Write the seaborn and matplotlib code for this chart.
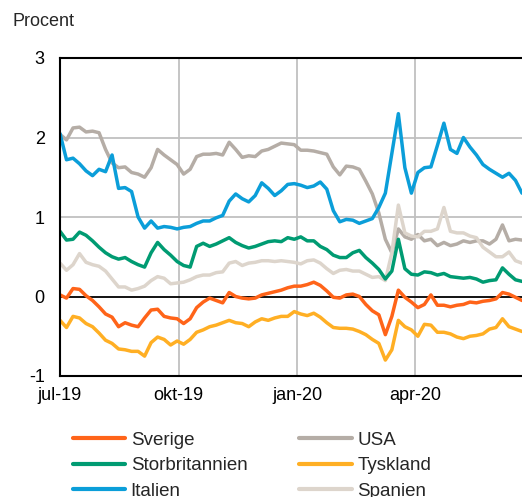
import numpy as np
import pandas as pd
import matplotlib
matplotlib.use("Agg")
import matplotlib.pyplot as plt
from matplotlib.lines import Line2D
import seaborn as sns

# datum (ca var 5:e dag, jul-19 .. jun-20)
dates = pd.date_range("2019-07-01", "2020-06-23", periods=72)

sverige = [0.02, -0.02, 0.10, 0.09, 0.01, -0.05, -0.13, -0.22, -0.26, -0.38,
           -0.33, -0.36, -0.38, -0.27, -0.17, -0.16, -0.25, -0.27, -0.28, -0.34,
           -0.28, -0.14, -0.07, -0.02, -0.05, -0.08, 0.05, 0.00, -0.02, -0.03,
           -0.02, 0.02, 0.04, 0.06, 0.08, 0.11, 0.13, 0.13, 0.15, 0.18,
           0.14, 0.07, -0.01, -0.02, 0.02, 0.03, 0.00, -0.10, -0.18, -0.23,
           -0.48, -0.25, 0.08, -0.01, -0.07, -0.14, -0.10, 0.02, -0.11, -0.11,
           -0.13, -0.11, -0.10, -0.07, -0.08, -0.06, -0.05, -0.03, 0.05, 0.03,
           -0.01, -0.05]
usa = [2.04, 1.97, 2.12, 2.13, 2.07, 2.08, 2.06, 1.85, 1.68, 1.62,
       1.63, 1.56, 1.54, 1.50, 1.62, 1.85, 1.78, 1.72, 1.66, 1.54,
       1.60, 1.76, 1.79, 1.79, 1.80, 1.78, 1.94, 1.85, 1.75, 1.77,
       1.76, 1.83, 1.85, 1.89, 1.93, 1.92, 1.91, 1.84, 1.84, 1.83,
       1.81, 1.79, 1.63, 1.53, 1.64, 1.63, 1.60, 1.45, 1.29, 1.05,
       0.72, 0.55, 0.85, 0.75, 0.72, 0.78, 0.70, 0.72, 0.64, 0.68,
       0.64, 0.66, 0.70, 0.68, 0.70, 0.70, 0.66, 0.72, 0.90, 0.70,
       0.72, 0.71]
storbritannien = [0.82, 0.71, 0.72, 0.81, 0.77, 0.70, 0.62, 0.55, 0.50, 0.47,
                  0.49, 0.44, 0.40, 0.37, 0.55, 0.68, 0.59, 0.52, 0.44, 0.39,
                  0.37, 0.63, 0.67, 0.63, 0.66, 0.70, 0.74, 0.68, 0.64, 0.61,
                  0.63, 0.66, 0.69, 0.70, 0.69, 0.74, 0.72, 0.75, 0.70, 0.70,
                  0.63, 0.59, 0.52, 0.49, 0.49, 0.55, 0.58, 0.49, 0.42, 0.34,
                  0.22, 0.32, 0.72, 0.35, 0.28, 0.27, 0.31, 0.30, 0.27, 0.29,
                  0.25, 0.24, 0.23, 0.24, 0.22, 0.18, 0.20, 0.21, 0.36, 0.28,
                  0.21, 0.19]
tyskland = [-0.30, -0.39, -0.25, -0.27, -0.34, -0.38, -0.46, -0.55, -0.59, -0.66,
            -0.67, -0.69, -0.69, -0.75, -0.58, -0.51, -0.54, -0.61, -0.56, -0.60,
            -0.54, -0.45, -0.42, -0.38, -0.36, -0.33, -0.30, -0.33, -0.34, -0.38,
            -0.32, -0.28, -0.30, -0.27, -0.25, -0.25, -0.19, -0.22, -0.24, -0.21,
            -0.26, -0.33, -0.39, -0.40, -0.40, -0.41, -0.44, -0.48, -0.54, -0.59,
            -0.80, -0.67, -0.30, -0.38, -0.42, -0.50, -0.35, -0.36, -0.45, -0.45,
            -0.47, -0.51, -0.53, -0.50, -0.49, -0.47, -0.41, -0.39, -0.28, -0.38,
            -0.41, -0.44]
italien = [2.05, 1.72, 1.74, 1.67, 1.58, 1.52, 1.60, 1.57, 1.78, 1.36,
           1.37, 1.32, 1.00, 0.86, 0.95, 0.86, 0.88, 0.87, 0.85, 0.87,
           0.88, 0.92, 0.95, 0.95, 0.99, 1.02, 1.20, 1.29, 1.23, 1.19,
           1.27, 1.43, 1.36, 1.27, 1.33, 1.41, 1.42, 1.40, 1.37, 1.39,
           1.44, 1.35, 1.08, 0.94, 0.97, 0.96, 0.92, 0.95, 0.98, 1.12,
           1.30, 1.80, 2.30, 1.62, 1.30, 1.56, 1.62, 1.63, 1.90, 2.18,
           1.85, 1.80, 2.00, 1.88, 1.78, 1.66, 1.60, 1.55, 1.50, 1.55,
           1.46, 1.30]
spanien = [0.42, 0.33, 0.40, 0.54, 0.43, 0.40, 0.38, 0.32, 0.22, 0.12,
           0.12, 0.08, 0.10, 0.13, 0.20, 0.25, 0.23, 0.16, 0.17, 0.18,
           0.21, 0.25, 0.27, 0.27, 0.30, 0.31, 0.42, 0.44, 0.39, 0.42,
           0.43, 0.45, 0.45, 0.44, 0.45, 0.44, 0.43, 0.41, 0.45, 0.46,
           0.42, 0.35, 0.29, 0.33, 0.34, 0.32, 0.32, 0.28, 0.24, 0.25,
           0.20, 0.55, 1.15, 0.80, 0.76, 0.75, 0.82, 0.82, 0.85, 1.12,
           0.82, 0.80, 0.80, 0.76, 0.74, 0.62, 0.56, 0.50, 0.50, 0.56,
           0.45, 0.42]

series = {"Sverige": sverige, "USA": usa, "Storbritannien": storbritannien,
          "Tyskland": tyskland, "Italien": italien, "Spanien": spanien}
colors = {"Sverige": "#FF6419", "USA": "#B5ADA6", "Storbritannien": "#009B72",
          "Tyskland": "#FFAF24", "Italien": "#0B9ED9", "Spanien": "#DDD5CC"}
draw_order = ["USA", "Spanien", "Storbritannien", "Tyskland", "Sverige", "Italien"]
legend_order = ["Sverige", "Storbritannien", "Italien", "USA", "Tyskland", "Spanien"]

df = pd.concat([pd.DataFrame({"datum": dates, "procent": v, "land": k})
                for k, v in series.items()], ignore_index=True)

sns.set_style("white")
plt.rcParams["font.family"] = ["Liberation Sans", "DejaVu Sans"]

fig = plt.figure(figsize=(5.22, 4.97), dpi=100)
ax = fig.add_axes([60 / 522, 1 - 376 / 497, 1 - 60 / 522, (376 - 58) / 497])

# rutnät
for d in ["2019-10-01", "2020-01-01", "2020-04-01"]:
    ax.axvline(pd.Timestamp(d), color="#C0C0C0", lw=1.3, zorder=0)
for yv in [1, 2]:
    ax.axhline(yv, color="#C0C0C0", lw=1.3, zorder=0)
ax.axhline(0, color="black", lw=1.3, zorder=1)

sns.lineplot(data=df, x="datum", y="procent", hue="land", hue_order=draw_order,
             palette=colors, linewidth=2.5, legend=False, ax=ax, zorder=2)

ax.set_xlim(pd.Timestamp("2019-07-01"), pd.Timestamp("2020-06-23"))
ax.set_ylim(-1, 3)
ax.set_yticks([-1, 0, 1, 2, 3])
ax.set_yticklabels(["-1", "0", "1", "2", "3"])
ax.set_xticks([pd.Timestamp(d) for d in ["2019-07-01", "2019-10-01", "2020-01-01", "2020-04-01"]])
ax.set_xticklabels(["jul-19", "okt-19", "jan-20", "apr-20"])
ax.tick_params(axis="both", length=0, labelsize=13, colors="black")
ax.tick_params(axis="y", pad=11)
ax.tick_params(axis="x", pad=8)
ax.set_xlabel("")
ax.set_ylabel("")
for s in ["left", "top", "bottom"]:
    ax.spines[s].set_color("black")
    ax.spines[s].set_linewidth(1.5)
ax.spines["right"].set_visible(False)

fig.text(12 / 522, 1 - 22 / 497, "Procent", fontsize=13, va="center", ha="left")

handles = [Line2D([], [], color=colors[k], lw=3, solid_capstyle="round") for k in legend_order]
fig.legend(handles, legend_order, ncol=2, loc="upper left",
           bbox_to_anchor=(67 / 522, 1 - 426 / 497), frameon=False, fontsize=13.5,
           handlelength=2.8, handletextpad=0.3, columnspacing=2.75,
           labelspacing=0.45, borderaxespad=0, borderpad=0.3)

fig.savefig("out.png", dpi=100)
